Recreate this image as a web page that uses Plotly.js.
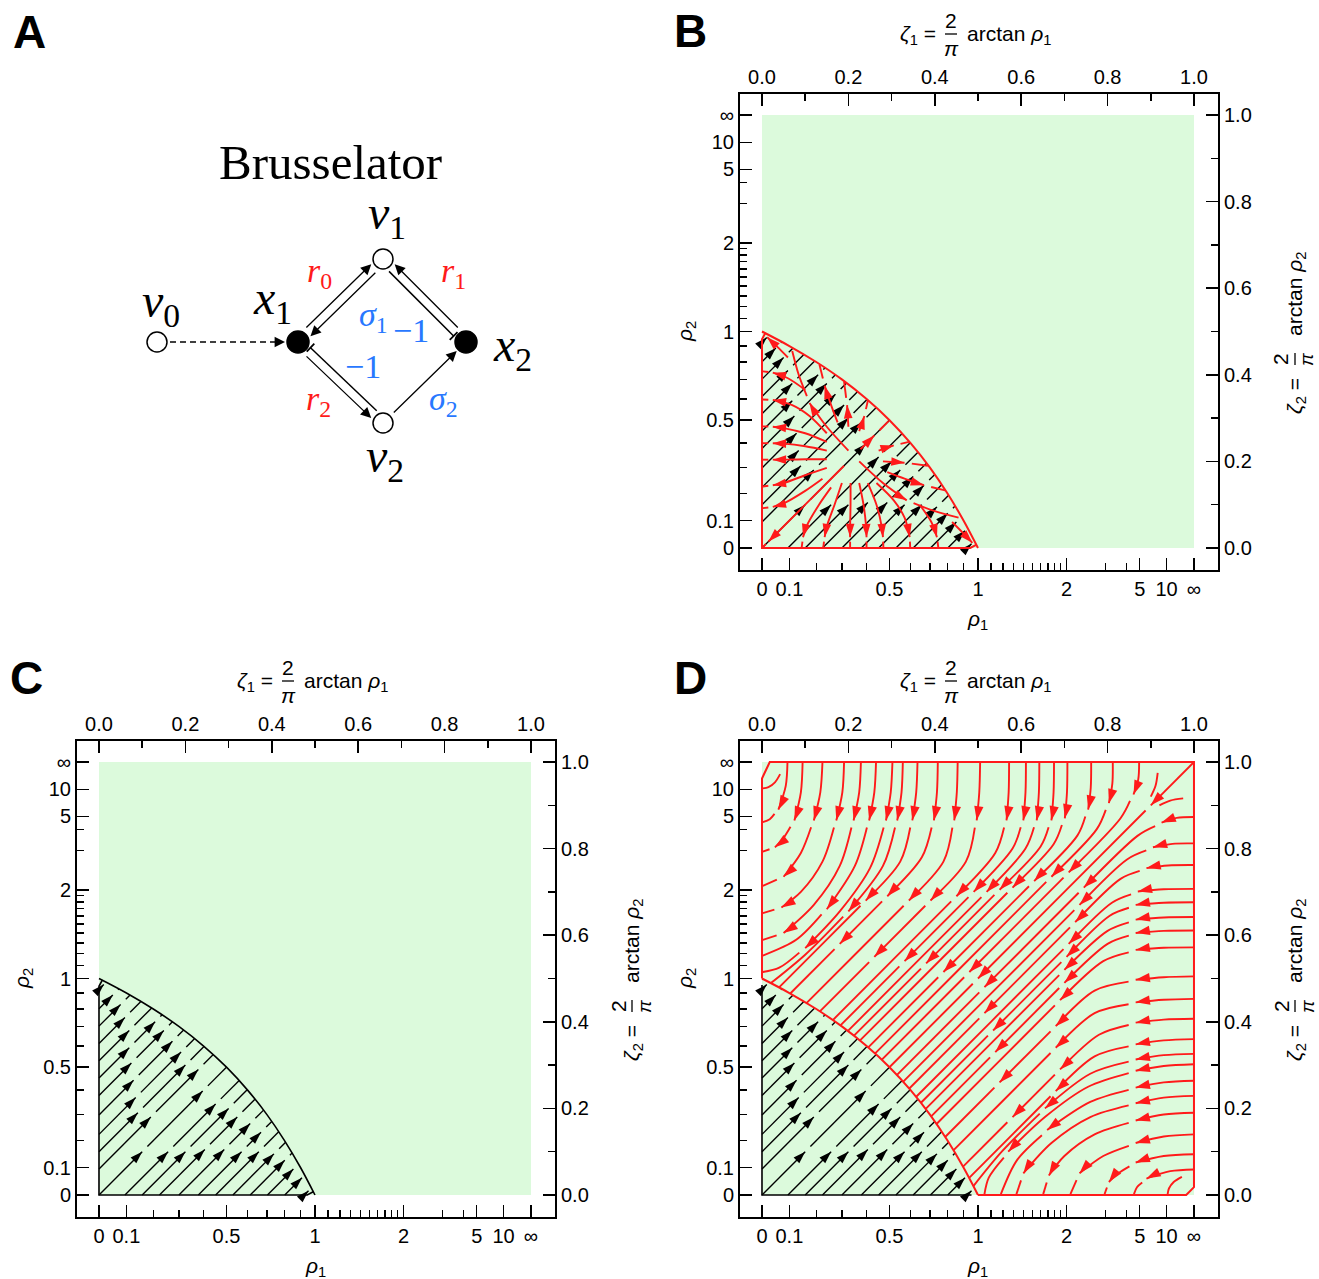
<!DOCTYPE html>
<html><head><meta charset="utf-8">
<script src="https://cdn.plot.ly/plotly-3.0.1.min.js"></script>
<style>html,body{margin:0;padding:0;background:#fff}#chart{width:1319px;height:1279px}</style>
</head><body><div id="chart"></div>
<script>
// ================= DATA =================
// axis ticks (rho values, shown through zeta = 2/pi * arctan(rho))
const rhoMajorTicks = [0, 0.1, 0.5, 1, 2, 5, 10, Infinity];
const rhoMajorLabels = ['0', '0.1', '0.5', '1', '2', '5', '10', '∞'];
const rhoMinorTicks = [0.2, 0.3, 0.4, 0.6, 0.7, 0.8, 0.9, 1.1, 1.2, 1.3, 1.4, 1.5, 1.6, 1.7, 1.8, 1.9, 3, 4];
const zetaMajorTicks = [0, 0.2, 0.4, 0.6, 0.8, 1.0];
const zetaMinorTicks = [0.1, 0.3, 0.5, 0.7, 0.9];
const zetaDomain = [0, 1];

// boundary rho1 + rho2 = 1 in zeta coordinates
const boundaryZ1 = [0, 0.0635, 0.1257, 0.1856, 0.2422, 0.2952, 0.3440, 0.3888, 0.4295, 0.4665, 0.5];
const boundaryZ2 = [0.5, 0.4665, 0.4295, 0.3888, 0.3440, 0.2952, 0.2422, 0.1856, 0.1257, 0.0635, 0];

// region edges (zeta1, zeta2 pairs)
const innerEdges = [0.008, 0.497, 0, 0.482, 0, 0, 0.482, 0, 0.497, 0.008];
const dInnerEdgesBlack = [0, 0.485, 0, 0, 0.485, 0];
const dOuterEdgesRed = [0, 0.5, 0, 0.962, 0.018, 1, 1, 1, 1, 0.018, 0.982, 0, 0.5, 0];

// black stream lines (start zeta1, zeta2, end zeta1, zeta2) and arrow tips (zeta1)
const blackLines = [
  [0, 0.475, 0.016, 0.491], [0, 0.43, 0.046, 0.476], [0, 0.39, 0.072, 0.462], [0, 0.35, 0.097, 0.447],
  [0, 0.31, 0.122, 0.432], [0, 0.27, 0.146, 0.416], [0, 0.23, 0.170, 0.400], [0, 0.185, 0.196, 0.381],
  [0, 0.14, 0.221, 0.361], [0, 0.10, 0.243, 0.343], [0, 0.06, 0.264, 0.324], [0, 0, 0.295, 0.295],
  [0.06, 0, 0.324, 0.264], [0.10, 0, 0.343, 0.243], [0.14, 0, 0.361, 0.221], [0.185, 0, 0.381, 0.196],
  [0.23, 0, 0.400, 0.170], [0.27, 0, 0.416, 0.146], [0.31, 0, 0.432, 0.122], [0.35, 0, 0.447, 0.097],
  [0.39, 0, 0.462, 0.072], [0.43, 0, 0.476, 0.046], [0.475, 0, 0.491, 0.016]
];
const blackArrowX = [
  [0.011], [0.032], [0.05], [0.06], [0.07], [0.07, 0.13], [0.075, 0.15], [0.08, 0.17],
  [0.085, 0.19], [0.09, 0.2], [0.12, 0.23], [0.1, 0.24],
  [0.16, 0.27], [0.2, 0.3], [0.245, 0.32], [0.29, 0.35], [0.33, 0.375], [0.37], [0.405], [0.43],
  [0.45], [0.47], [0.485]
];

// panel B red stream lines (flat zeta1,zeta2 lists) and arrow vertices
const bRedLines = [
  [0.2,0.225, 0.15,0.28, 0.11,0.335, 0.085,0.40, 0.07,0.455],
  [0.225,0.2, 0.28,0.15, 0.335,0.11, 0.40,0.085, 0.455,0.07],
  [0.19,0.19, 0.1,0.1, 0.015,0.015, 0.002,0.002],
  [0.228,0.228, 0.26,0.26, 0.293,0.293],
  [0.15,0.265, 0.11,0.305, 0.07,0.33, 0.025,0.342, 0.002,0.343],
  [0.15,0.245, 0.1,0.265, 0.05,0.277, 0.025,0.28, 0.002,0.281],
  [0.15,0.225, 0.1,0.235, 0.05,0.241, 0.025,0.242, 0.002,0.242],
  [0.15,0.205, 0.1,0.205, 0.05,0.204, 0.025,0.204, 0.002,0.204],
  [0.15,0.185, 0.1,0.168, 0.05,0.15, 0.025,0.145, 0.002,0.142],
  [0.14,0.16, 0.1,0.132, 0.05,0.103, 0.025,0.095, 0.002,0.092],
  [0.265,0.15, 0.305,0.11, 0.33,0.07, 0.342,0.025, 0.343,0.002],
  [0.245,0.15, 0.265,0.1, 0.277,0.05, 0.28,0.025, 0.281,0.002],
  [0.225,0.15, 0.235,0.1, 0.241,0.05, 0.242,0.025, 0.242,0.002],
  [0.205,0.15, 0.205,0.1, 0.204,0.05, 0.204,0.025, 0.204,0.002],
  [0.185,0.15, 0.168,0.1, 0.15,0.05, 0.145,0.025, 0.142,0.002],
  [0.16,0.14, 0.132,0.1, 0.103,0.05, 0.095,0.025, 0.092,0.002],
  [0.1,0.365, 0.06,0.392, 0.025,0.405, 0.002,0.408],
  [0.06,0.44, 0.035,0.465, 0.012,0.487],
  [0.365,0.1, 0.392,0.06, 0.405,0.025, 0.408,0.002],
  [0.44,0.06, 0.465,0.035, 0.487,0.012],
  [0.175,0.29, 0.16,0.33, 0.145,0.375, 0.133,0.424],
  [0.2,0.28, 0.197,0.33, 0.19,0.384],
  [0.225,0.27, 0.237,0.305, 0.245,0.34],
  [0.29,0.175, 0.33,0.16, 0.375,0.145, 0.424,0.133],
  [0.28,0.2, 0.33,0.197, 0.384,0.19],
  [0.27,0.225, 0.305,0.237, 0.34,0.245]
];
const bRedArrowAt = [[2],[2],[2],[1],[3],[3],[3],[3],[3],[3],[3],[3],[3],[3],[3],[3],[2],[2],[2],[2],[2],[1],[1],[2],[1],[1]];

// panel D red stream lines and arrow vertices
const dRedLines = [
  [0.042,0.972, 0.03,0.953, 0.015,0.942, 0.002,0.939],
  [0.059,1, 0.055,0.945, 0.038,0.89, 0.018,0.868, 0.002,0.861],
  [0.094,1, 0.09,0.93, 0.075,0.865, 0.05,0.825, 0.03,0.803, 0.002,0.793],
  [0.14,1, 0.135,0.93, 0.12,0.865, 0.09,0.79, 0.05,0.735, 0.002,0.714],
  [0.19,1, 0.186,0.93, 0.172,0.865, 0.14,0.77, 0.09,0.7, 0.045,0.664, 0.002,0.651],
  [0.229,1, 0.225,0.93, 0.212,0.865, 0.18,0.76, 0.12,0.67, 0.05,0.605, 0.002,0.589],
  [0.264,1, 0.26,0.93, 0.248,0.865, 0.215,0.76, 0.15,0.66, 0.08,0.59, 0.002,0.553],
  [0.302,1, 0.298,0.93, 0.287,0.865, 0.25,0.755, 0.18,0.655, 0.1,0.57, 0.04,0.525, 0.002,0.515],
  [0.326,1, 0.323,0.93, 0.313,0.865, 0.28,0.76, 0.2,0.655, 0.1,0.555, 0.02,0.489],
  [0.36,1, 0.357,0.93, 0.348,0.865, 0.32,0.77, 0.24,0.68, 0.14,0.58, 0.039,0.479],
  [0.407,1, 0.405,0.93, 0.398,0.865, 0.37,0.78, 0.29,0.69, 0.18,0.58, 0.066,0.466],
  [0.453,1, 0.451,0.93, 0.445,0.865, 0.42,0.77, 0.34,0.68, 0.22,0.56, 0.103,0.443],
  [0.505,1, 0.503,0.93, 0.497,0.865, 0.472,0.77, 0.39,0.68, 0.26,0.55, 0.134,0.424],
  [0.572,1, 0.571,0.93, 0.566,0.865, 0.54,0.79, 0.45,0.69, 0.3,0.54, 0.164,0.404],
  [0.611,1, 0.61,0.93, 0.605,0.865, 0.58,0.8, 0.49,0.7, 0.33,0.54, 0.181,0.391],
  [0.642,1, 0.641,0.93, 0.636,0.865, 0.61,0.8, 0.52,0.7, 0.36,0.54, 0.199,0.379],
  [0.676,1, 0.675,0.93, 0.67,0.865, 0.645,0.805, 0.55,0.705, 0.38,0.535, 0.213,0.368],
  [0.707,1, 0.706,0.93, 0.701,0.87, 0.675,0.81, 0.58,0.71, 0.4,0.53, 0.227,0.357],
  [0.762,1, 0.761,0.94, 0.755,0.89, 0.73,0.83, 0.63,0.725, 0.42,0.515, 0.246,0.341],
  [0.812,1, 0.811,0.95, 0.803,0.905, 0.775,0.845, 0.67,0.735, 0.45,0.515, 0.262,0.327],
  [0.873,1, 0.871,0.96, 0.86,0.925, 0.83,0.87, 0.71,0.745, 0.48,0.515, 0.277,0.312],
  [1,1, 0.9,0.9, 0.7,0.7, 0.5,0.5, 0.295,0.295],
  [0.916,0.975, 0.911,0.945, 0.9,0.92],
  [0.972,0.042, 0.953,0.03, 0.942,0.015, 0.939,0.002],
  [1,0.059, 0.945,0.055, 0.89,0.038, 0.868,0.018, 0.861,0.002],
  [1,0.094, 0.93,0.09, 0.865,0.075, 0.825,0.05, 0.803,0.03, 0.793,0.002],
  [1,0.14, 0.93,0.135, 0.865,0.12, 0.79,0.09, 0.735,0.05, 0.714,0.002],
  [1,0.19, 0.93,0.186, 0.865,0.172, 0.77,0.14, 0.7,0.09, 0.664,0.045, 0.651,0.002],
  [1,0.229, 0.93,0.225, 0.865,0.212, 0.76,0.18, 0.67,0.12, 0.605,0.05, 0.589,0.002],
  [1,0.264, 0.93,0.26, 0.865,0.248, 0.76,0.215, 0.66,0.15, 0.59,0.08, 0.553,0.002],
  [1,0.302, 0.93,0.298, 0.865,0.287, 0.755,0.25, 0.655,0.18, 0.57,0.1, 0.525,0.04, 0.515,0.002],
  [1,0.326, 0.93,0.323, 0.865,0.313, 0.76,0.28, 0.655,0.2, 0.555,0.1, 0.489,0.02],
  [1,0.36, 0.93,0.357, 0.865,0.348, 0.77,0.32, 0.68,0.24, 0.58,0.14, 0.479,0.039],
  [1,0.407, 0.93,0.405, 0.865,0.398, 0.78,0.37, 0.69,0.29, 0.58,0.18, 0.466,0.066],
  [1,0.453, 0.93,0.451, 0.865,0.445, 0.77,0.42, 0.68,0.34, 0.56,0.22, 0.443,0.103],
  [1,0.505, 0.93,0.503, 0.865,0.497, 0.77,0.472, 0.68,0.39, 0.55,0.26, 0.424,0.134],
  [1,0.572, 0.93,0.571, 0.865,0.566, 0.79,0.54, 0.69,0.45, 0.54,0.3, 0.404,0.164],
  [1,0.611, 0.93,0.61, 0.865,0.605, 0.8,0.58, 0.7,0.49, 0.54,0.33, 0.391,0.181],
  [1,0.642, 0.93,0.641, 0.865,0.636, 0.8,0.61, 0.7,0.52, 0.54,0.36, 0.379,0.199],
  [1,0.676, 0.93,0.675, 0.865,0.67, 0.805,0.645, 0.705,0.55, 0.535,0.38, 0.368,0.213],
  [1,0.707, 0.93,0.706, 0.87,0.701, 0.81,0.675, 0.71,0.58, 0.53,0.4, 0.357,0.227],
  [1,0.762, 0.94,0.761, 0.89,0.755, 0.83,0.73, 0.725,0.63, 0.515,0.42, 0.341,0.246],
  [1,0.812, 0.95,0.811, 0.905,0.803, 0.845,0.775, 0.735,0.67, 0.515,0.45, 0.327,0.262],
  [1,0.873, 0.96,0.871, 0.925,0.86, 0.87,0.83, 0.745,0.71, 0.515,0.48, 0.312,0.277],
  [0.975,0.916, 0.945,0.911, 0.92,0.9]
];
const dRedArrowAt = [
  [], [2], [2,4], [2,4], [2,5], [2,5], [2,4], [2,5],
  [2,4], [2,4], [2,4,5], [2,4], [2,4,5], [2,4], [2,4,5], [2,4], [2,4,5], [2,4], [2,4,5], [2,4], [2,4,5],
  [1,3], [],
  [], [2], [2,4], [2,4], [2,5], [2,5], [2,4], [2,5],
  [2,4], [2,4], [2,4,5], [2,4], [2,4,5], [2,4], [2,4,5], [2,4], [2,4,5], [2,4], [2,4,5], [2,4], [2,4,5],
  []
];

// panel A: reaction network (diagram units = pixels of the panel)
const nodeX = [157, 298, 466, 383, 383];
const nodeY = [342, 342, 342, 259, 423];
const nodeFilled = [false, true, true, false, false];
const nodeR = [10, 11, 11, 10, 10];
const edgeFrom = [0, 1, 3, 2, 3, 1, 4, 4];
const edgeTo   = [1, 3, 1, 3, 2, 4, 1, 2];
const edgeSide = [0, 1, -1, 1, -1, 1, -1, 0];
const edgeHead = ['arrow', 'arrow', 'arrow', 'arrow', 'bar', 'arrow', 'bar', 'arrow'];
const edgeDashed = [true, false, false, false, false, false, false, false];

// ================= RENDERING =================
const W = 1319, H = 1279;
const RED = '#ff1a1a', GREEN = '#dcfadc', BLUE = '#2878ff';
const SANS = 'Liberation Sans, Arial, Helvetica, sans-serif';
const SERIF = 'Liberation Serif, Times New Roman, serif';
const px = x => x / W, py = y => 1 - y / H;
const zeta = r => (r === Infinity ? 1 : 2 / Math.PI * Math.atan(r));
const XR = [-0.0509, 1.0556], YR = [-0.0508, 1.0485];
const PW = 478, PH = 476;
const GAP = 0.017;   // stream-plot style gap after each arrow head (zeta units)
const axKey = id => id[0] + 'axis' + id.slice(1);

const traces = [];
const shapes = [];
const annotations = [];
const layout = {
  width: W, height: H, margin: {l: 0, r: 0, t: 0, b: 0},
  paper_bgcolor: '#fff', plot_bgcolor: 'rgba(0,0,0,0)', showlegend: false,
  font: {family: SANS, color: '#000'}
};

function splitAtArrows(lines, idxs) {
  const out = [];
  lines.forEach((L, li) => {
    const n = L.length / 2;
    let cur = [];
    for (let i = 0; i < n; i++) {
      cur.push(L[2 * i], L[2 * i + 1]);
      if (idxs[li].indexOf(i) >= 0 && i < n - 1) {
        out.push(cur);
        const dx = L[2 * i + 2] - L[2 * i], dy = L[2 * i + 3] - L[2 * i + 1];
        const d = Math.hypot(dx, dy), g = Math.min(GAP, 0.45 * d) / d;
        cur = [L[2 * i] + dx * g, L[2 * i + 1] + dy * g];
      }
    }
    out.push(cur);
  });
  return out;
}
function splitBlack() {
  const out = [];
  blackLines.forEach((L, i) => {
    const dx = L[2] - L[0], dy = L[3] - L[1], d = Math.hypot(dx, dy);
    let cur = [L[0], L[1]];
    blackArrowX[i].forEach(x => {
      const y = L[1] + (x - L[0]) * dy / dx;
      cur.push(x, y); out.push(cur);
      const nx = x + GAP * dx / d;
      if (nx < L[2]) cur = [nx, y + GAP * dy / d]; else cur = null;
    });
    if (cur) { cur.push(L[2], L[3]); out.push(cur); }
  });
  return out;
}
function polyTrace(lines, color, width, xa, ya, spline) {
  const x = [], y = [];
  lines.forEach(L => {
    for (let i = 0; i < L.length; i += 2) { x.push(L[i]); y.push(L[i + 1]); }
    x.push(null); y.push(null);
  });
  const line = {color: color, width: width};
  if (spline) { line.shape = 'spline'; line.smoothing = 0.9; }
  return {type: 'scatter', mode: 'lines', x, y, xaxis: xa, yaxis: ya, line, hoverinfo: 'skip', showlegend: false};
}
function arrowTrace(tips, color, xa, ya, size) {
  return {
    type: 'scatter', mode: 'markers', xaxis: xa, yaxis: ya, hoverinfo: 'skip', showlegend: false,
    x: tips.map(t => t[0]), y: tips.map(t => t[1]),
    marker: {symbol: 'arrow', size: size, color: color, opacity: 1, line: {width: 0},
      angle: tips.map(t => Math.atan2(t[2] * 432, t[3] * 433) * 180 / Math.PI)}
  };
}
function vertexArrows(lines, idxs) {
  const tips = [];
  lines.forEach((L, li) => {
    const n = L.length / 2;
    idxs[li].forEach(k => {
      const P = i => [L[2 * i], L[2 * i + 1]];
      const p = P(k), a = P(k - 1);
      let dx = p[0] - a[0], dy = p[1] - a[1];
      const l1 = Math.hypot(dx, dy);
      dx /= l1; dy /= l1;
      if (k < n - 1) {
        const b = P(k + 1);
        let ex = b[0] - p[0], ey = b[1] - p[1];
        const l2 = Math.hypot(ex, ey);
        dx += 0.6 * ex / l2; dy += 0.6 * ey / l2;
      }
      tips.push([p[0], p[1], dx, dy]);
    });
  });
  return tips;
}
function blackArrowTips() {
  const tips = [];
  blackLines.forEach((L, i) => {
    const dx = L[2] - L[0], dy = L[3] - L[1];
    blackArrowX[i].forEach(x => tips.push([x, L[1] + (x - L[0]) * dy / dx, dx, dy]));
  });
  return tips;
}

const tickFont = {family: SANS, size: 20, color: '#000'};
const titleFont = {family: SANS, size: 21, color: '#000'};
function baseAxis(extra) {
  return Object.assign({
    showline: true, linecolor: '#000', linewidth: 2, mirror: false,
    ticks: 'inside', ticklen: 12, tickwidth: 1.5, tickcolor: '#000',
    showgrid: false, zeroline: false, tickfont: tickFont, fixedrange: true,
    tickmode: 'array'
  }, extra);
}
function minorTicks(vals) {
  return {tickmode: 'array', tickvals: vals, ticks: 'inside', ticklen: 7, tickwidth: 1.5, tickcolor: '#000', showgrid: false};
}

const panels = [
  {letter: 'B', L: 740, T: 94, xa: 'x', xa2: 'x2', ya: 'y', ya2: 'y2'},
  {letter: 'C', L: 77, T: 741, xa: 'x3', xa2: 'x4', ya: 'y3', ya2: 'y4'},
  {letter: 'D', L: 740, T: 741, xa: 'x5', xa2: 'x6', ya: 'y5', ya2: 'y6'}
];

panels.forEach(p => {
  const xdom = [px(p.L), px(p.L + PW)], ydom = [py(p.T + PH), py(p.T)];
  layout[axKey(p.xa)] = baseAxis({domain: xdom, range: XR, anchor: p.ya, side: 'bottom',
    tickvals: rhoMajorTicks.map(zeta), ticktext: rhoMajorLabels, minor: minorTicks(rhoMinorTicks.map(zeta))});
  layout[axKey(p.xa2)] = baseAxis({overlaying: p.xa, range: XR, anchor: p.ya, side: 'top',
    tickvals: zetaMajorTicks, ticktext: zetaMajorTicks.map(v => v.toFixed(1)), minor: minorTicks(zetaMinorTicks)});
  layout[axKey(p.ya)] = baseAxis({domain: ydom, range: YR, anchor: p.xa, side: 'left',
    tickvals: rhoMajorTicks.map(zeta), ticktext: rhoMajorLabels, minor: minorTicks(rhoMinorTicks.map(zeta))});
  layout[axKey(p.ya2)] = baseAxis({overlaying: p.ya, range: YR, anchor: p.xa, side: 'right',
    tickvals: zetaMajorTicks, ticktext: zetaMajorTicks.map(v => v.toFixed(1)), minor: minorTicks(zetaMinorTicks)});
  traces.push({type: 'scatter', mode: 'markers', x: [0.5], y: [0.5], xaxis: p.xa2, yaxis: p.ya2,
    marker: {opacity: 0}, hoverinfo: 'skip', showlegend: false});
  shapes.push({type: 'rect', xref: p.xa, yref: p.ya, x0: zetaDomain[0], x1: zetaDomain[1], y0: zetaDomain[0], y1: zetaDomain[1],
    fillcolor: GREEN, line: {width: 0}, layer: 'below'});

  // titles
  const cx = p.L + 238, cy = p.T + 238, R = p.L + PW, B = p.T + PH;
  const yMain = p.T - 59;
  const ann = (o) => annotations.push(Object.assign({xref: 'paper', yref: 'paper', showarrow: false, font: titleFont}, o));
  ann({x: px(cx - 40), y: py(yMain), xanchor: 'right', yanchor: 'middle', text: '<i>ζ</i><sub>1</sub> ='});
  ann({x: px(cx - 27), y: py(yMain - 15), xanchor: 'center', yanchor: 'middle', text: '2'});
  ann({x: px(cx - 27), y: py(yMain + 13), xanchor: 'center', yanchor: 'middle', text: '<i>π</i>'});
  ann({x: px(cx - 13), y: py(yMain), xanchor: 'left', yanchor: 'middle', text: 'arctan <i>ρ</i><sub>1</sub>'});
  shapes.push({type: 'line', xref: 'paper', yref: 'paper', x0: px(cx - 33), x1: px(cx - 21), y0: py(yMain - 1), y1: py(yMain - 1), line: {color: '#000', width: 1.3}});
  ann({x: px(cx), y: py(B + 50), xanchor: 'center', yanchor: 'middle', text: '<i>ρ</i><sub>1</sub>'});
  ann({x: px(p.L - 54), y: py(cy), xanchor: 'center', yanchor: 'middle', textangle: -90, text: '<i>ρ</i><sub>2</sub>'});
  const xr = R + 78;
  ann({x: px(xr), y: py(cy + 64), xanchor: 'center', yanchor: 'middle', textangle: -90, text: '<i>ζ</i><sub>2</sub> ='});
  ann({x: px(xr - 15), y: py(cy + 27), xanchor: 'center', yanchor: 'middle', textangle: -90, text: '2'});
  ann({x: px(xr + 11), y: py(cy + 27), xanchor: 'center', yanchor: 'middle', textangle: -90, text: '<i>π</i>',
    font: {family: SANS, size: 19, color: '#000'}});
  ann({x: px(xr), y: py(cy - 38), xanchor: 'center', yanchor: 'middle', textangle: -90, text: 'arctan <i>ρ</i><sub>2</sub>'});
  shapes.push({type: 'line', xref: 'paper', yref: 'paper', x0: px(xr - 1), x1: px(xr - 1), y0: py(cy + 21), y1: py(cy + 33), line: {color: '#000', width: 1.3}});
  annotations.push({xref: 'paper', yref: 'paper', x: px(p.L - 50), y: py(p.T - 63), xanchor: 'center', yanchor: 'middle',
    showarrow: false, text: '<b>' + p.letter + '</b>', font: {family: SANS, size: 46, color: '#000'}});
});

// ---- panel B ----
(function () {
  const p = panels[0];
  traces.push(polyTrace(splitBlack(), '#000', 1.4, p.xa, p.ya, false));
  traces.push(arrowTrace(blackArrowTips(), '#000', p.xa, p.ya, 13));
  traces.push(polyTrace(splitAtArrows(bRedLines, bRedArrowAt), RED, 1.9, p.xa, p.ya, true));
  traces.push(arrowTrace(vertexArrows(bRedLines, bRedArrowAt), RED, p.xa, p.ya, 14));
  traces.push(polyTrace([innerEdges], RED, 2, p.xa, p.ya, false));
  traces.push({type: 'scatter', mode: 'lines', x: boundaryZ1, y: boundaryZ2, xaxis: p.xa, yaxis: p.ya,
    line: {color: RED, width: 2, shape: 'spline', smoothing: 1}, hoverinfo: 'skip'});
})();
// ---- panel C ----
(function () {
  const p = panels[1];
  traces.push(polyTrace(splitBlack(), '#000', 1.4, p.xa, p.ya, false));
  traces.push(arrowTrace(blackArrowTips(), '#000', p.xa, p.ya, 13));
  traces.push(polyTrace([innerEdges], '#000', 1.6, p.xa, p.ya, false));
  traces.push({type: 'scatter', mode: 'lines', x: boundaryZ1, y: boundaryZ2, xaxis: p.xa, yaxis: p.ya,
    line: {color: '#000', width: 1.6, shape: 'spline', smoothing: 1}, hoverinfo: 'skip'});
})();
// ---- panel D ----
(function () {
  const p = panels[2];
  traces.push(polyTrace(splitBlack(), '#000', 1.4, p.xa, p.ya, false));
  traces.push(arrowTrace(blackArrowTips(), '#000', p.xa, p.ya, 13));
  traces.push(polyTrace([dInnerEdgesBlack], '#000', 1.6, p.xa, p.ya, false));
  traces.push(polyTrace(splitAtArrows(dRedLines, dRedArrowAt), RED, 1.9, p.xa, p.ya, true));
  traces.push(arrowTrace(vertexArrows(dRedLines, dRedArrowAt), RED, p.xa, p.ya, 15));
  traces.push(polyTrace([dOuterEdgesRed], RED, 2, p.xa, p.ya, false));
  traces.push({type: 'scatter', mode: 'lines', x: boundaryZ1, y: boundaryZ2, xaxis: p.xa, yaxis: p.ya,
    line: {color: RED, width: 2, shape: 'spline', smoothing: 1}, hoverinfo: 'skip'});
})();

// ---- panel A (diagram) ----
layout.xaxis7 = {domain: [0, px(660)], range: [0, 660], visible: false, fixedrange: true, anchor: 'y7'};
layout.yaxis7 = {domain: [py(500), 1], range: [500, 0], visible: false, fixedrange: true, anchor: 'x7'};
(function () {
  const cX = 383, cY = 342;
  const arrowOpts = {showarrow: true, text: '', arrowhead: 2, arrowsize: 1.6, arrowwidth: 1.3, arrowcolor: '#000', standoff: 0};
  edgeFrom.forEach((f, i) => {
    const t = edgeTo[i];
    const x0 = nodeX[f], y0 = nodeY[f], x1 = nodeX[t], y1 = nodeY[t];
    const len = Math.hypot(x1 - x0, y1 - y0);
    const ux = (x1 - x0) / len, uy = (y1 - y0) / len;
    let nx = -uy, ny = ux;
    const mx = (x0 + x1) / 2 - cX, my = (y0 + y1) / 2 - cY;
    if (nx * mx + ny * my < 0) { nx = -nx; ny = -ny; }
    const off = edgeSide[i] * 4.5;
    const sx = x0 + ux * (nodeR[f] + 3) + nx * off, sy = y0 + uy * (nodeR[f] + 3) + ny * off;
    const ex = x1 - ux * (nodeR[t] + 2) + nx * off, ey = y1 - uy * (nodeR[t] + 2) + ny * off;
    if (edgeHead[i] === 'arrow') {
      if (edgeDashed[i]) {
        shapes.push({type: 'line', xref: 'x7', yref: 'y7', x0: sx, y0: sy, x1: ex - ux * 9, y1: ey - uy * 9,
          line: {color: '#000', width: 1.5, dash: '6px,4px'}});
        annotations.push(Object.assign({xref: 'x7', yref: 'y7', axref: 'x7', ayref: 'y7', x: ex, y: ey,
          ax: ex - ux * 10, ay: ey - uy * 10}, arrowOpts));
      } else {
        annotations.push(Object.assign({xref: 'x7', yref: 'y7', axref: 'x7', ayref: 'y7', x: ex, y: ey, ax: sx, ay: sy}, arrowOpts));
      }
    } else {
      shapes.push({type: 'line', xref: 'x7', yref: 'y7', x0: sx, y0: sy, x1: ex, y1: ey, line: {color: '#000', width: 1.5}});
      shapes.push({type: 'line', xref: 'x7', yref: 'y7', x0: ex + nx * 5.5, y0: ey + ny * 5.5, x1: ex - nx * 5.5, y1: ey - ny * 5.5,
        line: {color: '#000', width: 1.8}});
    }
  });
  traces.push({type: 'scatter', mode: 'markers', x: nodeX, y: nodeY, xaxis: 'x7', yaxis: 'y7', hoverinfo: 'skip',
    marker: {size: nodeR.map(r => 2 * r), sizemode: 'diameter', opacity: 1,
      color: nodeFilled.map(f => f ? '#000' : '#fff'), line: {color: '#000', width: 1.5}}});
  const lab = (x, y, text, size, color) => annotations.push({xref: 'x7', yref: 'y7', x, y, text, showarrow: false,
    xanchor: 'center', yanchor: 'middle', font: {family: SERIF, size, color}});
  lab(330, 162, 'Brusselator', 49, '#000');
  lab(387, 216, '<i>v</i><sub>1</sub>', 48, '#000');
  lab(161, 304, '<i>v</i><sub>0</sub>', 48, '#000');
  lab(272, 301, '<i>x</i><sub>1</sub>', 48, '#000');
  lab(512, 348, '<i>x</i><sub>2</sub>', 48, '#000');
  lab(385, 459, '<i>v</i><sub>2</sub>', 48, '#000');
  lab(319, 273, '<i>r</i><sub>0</sub>', 34, RED);
  lab(453, 273, '<i>r</i><sub>1</sub>', 34, RED);
  lab(318, 401, '<i>r</i><sub>2</sub>', 34, RED);
  lab(373, 317, '<i>σ</i><sub>1</sub>', 34, BLUE);
  lab(411, 330, '−1', 34, BLUE);
  lab(363, 366, '−1', 34, BLUE);
  lab(443, 401, '<i>σ</i><sub>2</sub>', 34, BLUE);
  annotations.push({xref: 'paper', yref: 'paper', x: px(29), y: py(32), xanchor: 'center', yanchor: 'middle',
    showarrow: false, text: '<b>A</b>', font: {family: SANS, size: 46, color: '#000'}});
})();

layout.shapes = shapes;
layout.annotations = annotations;
Plotly.newPlot('chart', traces, layout, {staticPlot: true, displayModeBar: false});
</script>
</body></html>
